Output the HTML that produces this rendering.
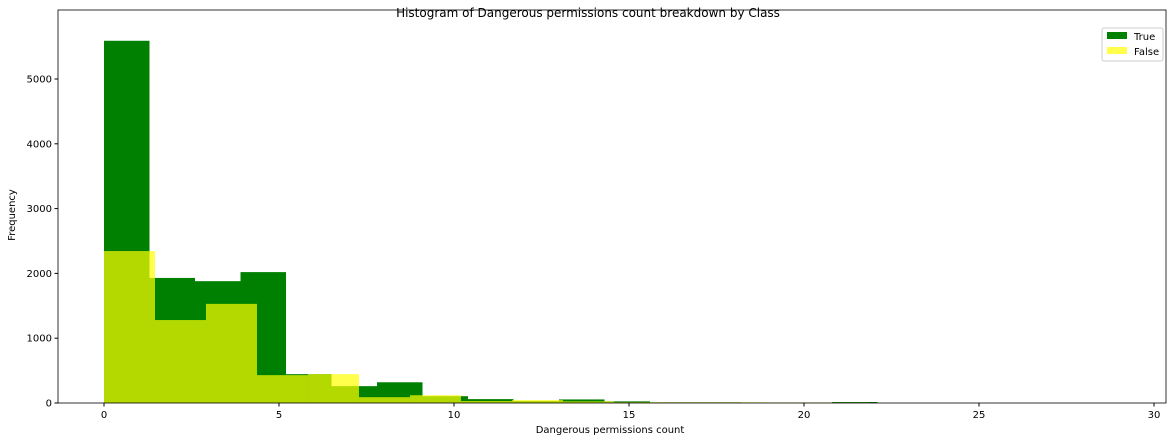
<!DOCTYPE html>
<html><head><meta charset="utf-8"><style>
body{margin:0;background:#fff;font-family:"Liberation Sans","DejaVu Sans",sans-serif}
svg text{font-family:"DejaVu Sans","Liberation Sans",sans-serif}
</style></head><body>
<svg id="chart" width="1176" height="441" xmlns="http://www.w3.org/2000/svg">
<rect x="0" y="0" width="1176" height="441" fill="#fff"/>
<g id="bars"></g>
<rect x="58" y="10" width="1108" height="393" fill="none" stroke="#000" stroke-width="0.8"/>
<g id="xticks"></g><g id="yticks"></g>
<text x="588" y="17" text-anchor="middle" font-size="12">Histogram of Dangerous permissions count breakdown by Class</text>
<text x="610" y="433" text-anchor="middle" font-size="10">Dangerous permissions count</text>
<text x="15" y="215" text-anchor="middle" font-size="10" transform="rotate(-90 15 215)">Frequency</text>
<g>
<rect x="1102" y="28" width="61" height="33" fill="#fff" stroke="#ccc" rx="2"/>
<rect x="1107" y="32" width="20" height="7" fill="#008000"/>
<text x="1134" y="40" font-size="10">True</text>
<rect x="1107" y="47" width="20" height="7" fill="#ffff00" fill-opacity="0.7"/>
<text x="1134" y="55" font-size="10">False</text>
</g>
</svg>
<script>
const trueBinWidth = 1.3;
const trueCounts = [5590,1930,1880,2020,445,260,320,105,60,30,55,25,10,10,8,8,15,0,0,0,0,0];
const falseBinWidth = 1.457;
const falseCounts = [2345,1280,1530,430,445,90,120,30,45,25,12,10,10,8,8,0,0,0,0,0];
const xTicks = [0,5,10,15,20,25,30];
const yTicks = [0,1000,2000,3000,4000,5000];
const X = v => 104 + v*35;
const Y = v => 403 - v*0.0648;
const NS = "http://www.w3.org/2000/svg";
const bars = document.getElementById('bars');
function drawBar(i, w, c, fill, op, name){
  if(c<=0) return;
  const r = document.createElementNS(NS,'rect');
  r.setAttribute('x', X(i*w)); r.setAttribute('width', X((i+1)*w)-X(i*w));
  r.setAttribute('y', Y(c)); r.setAttribute('height', Y(0)-Y(c));
  r.setAttribute('fill', fill); r.setAttribute('fill-opacity', op);
  
  
  bars.appendChild(r);
}
trueCounts.forEach((c,i)=>drawBar(i,trueBinWidth,c,'#008000',1,'bar-true'));
falseCounts.forEach((c,i)=>drawBar(i,falseBinWidth,c,'#ffff00',0.7,'bar-false'));
const xt = document.getElementById('xticks');
xTicks.forEach(t=>{
  const l=document.createElementNS(NS,'line');
  l.setAttribute('x1',X(t));l.setAttribute('x2',X(t));l.setAttribute('y1',403);l.setAttribute('y2',406.5);l.setAttribute('stroke','#000');
  
  
  xt.appendChild(l);
  const tx=document.createElementNS(NS,'text');
  tx.setAttribute('x',X(t));tx.setAttribute('y',418);tx.setAttribute('text-anchor','middle');tx.setAttribute('font-size','10');
  tx.textContent=t;
  
  
  xt.appendChild(tx);
});
const yt = document.getElementById('yticks');
yTicks.forEach(t=>{
  const l=document.createElementNS(NS,'line');
  l.setAttribute('x1',54.5);l.setAttribute('x2',58);l.setAttribute('y1',Y(t));l.setAttribute('y2',Y(t));l.setAttribute('stroke','#000');
  
  
  yt.appendChild(l);
  const tx=document.createElementNS(NS,'text');
  tx.setAttribute('x',52);tx.setAttribute('y',Y(t)+3.5);tx.setAttribute('text-anchor','end');tx.setAttribute('font-size','10');
  tx.textContent=t;
  
  
  yt.appendChild(tx);
});
</script>
</body></html>
